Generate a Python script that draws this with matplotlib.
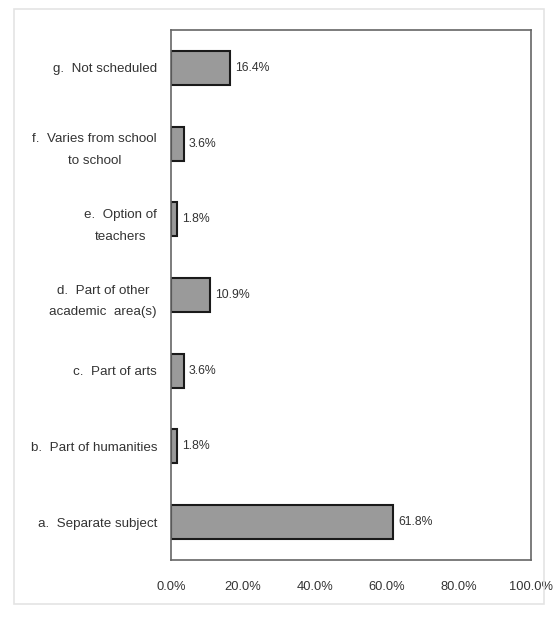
import matplotlib.pyplot as plt
from matplotlib.patches import Rectangle

# survey answers, bottom to top
categories = ['a.  Separate subject', 'b.  Part of humanities', 'c.  Part of arts',
              'd.  Part of other\nacademic  area(s)', 'e.  Option of\nteachers',
              'f.  Varies from school\nto school', 'g.  Not scheduled']
values = [61.8, 1.8, 3.6, 10.9, 1.8, 3.6, 16.4]
xticks = [0, 20, 40, 60, 80, 100]

plt.rcParams['font.family'] = ['Liberation Sans', 'DejaVu Sans']

fig = plt.figure(figsize=(5.56, 6.24), dpi=100)
ax = fig.add_axes([171 / 556, 64 / 624, 360 / 556, 530 / 624])

ypos = list(range(len(values)))
ax.barh(ypos, values, height=0.45, color='#9a9a9a', edgecolor='#1a1a1a', linewidth=1.5)

for y, v in zip(ypos, values):
    ax.text(v + 1.3, y, '%.1f%%' % v, va='center', ha='left', fontsize=8.8, color='#333333')

ax.set_xlim(0, 100)
ax.set_ylim(-0.5, len(values) - 0.5)
ax.set_xticks(xticks)
ax.set_xticklabels(['%.1f%%' % t for t in xticks], fontsize=9.3, color='#333333')
ax.set_yticks(ypos)
ax.set_yticklabels(categories, fontsize=9.6, color='#333333', linespacing=2.1,
                   multialignment='center')
ax.tick_params(axis='both', length=0)
ax.tick_params(axis='y', pad=10)
ax.tick_params(axis='x', pad=15)
for s in ax.spines.values():
    s.set_color('#666666')
    s.set_linewidth(1.2)

# faint frame of the scanned page
fig.patches.append(Rectangle((14 / 556, 20 / 624), 530 / 556, 595 / 624, transform=fig.transFigure,
                             fill=False, edgecolor='#e4e4e4', linewidth=1.2))

fig.savefig('out.png', dpi=100)
